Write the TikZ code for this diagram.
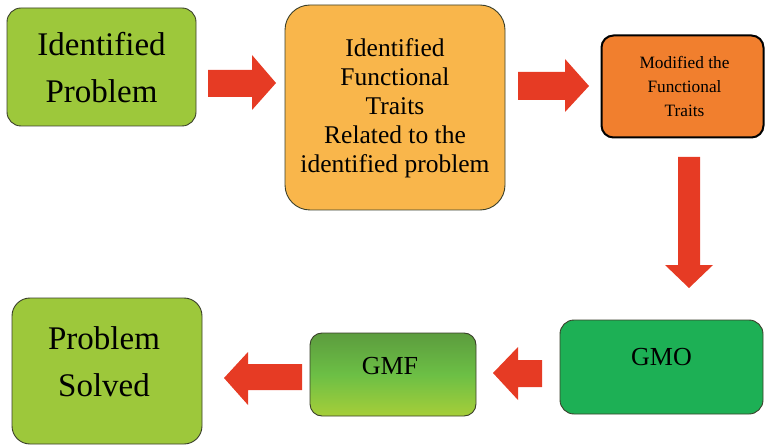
\documentclass[tikz,border=0pt]{standalone}
\usepackage{fontspec}
\setmainfont{Liberation Serif}
\definecolor{leafgreen}{HTML}{9DC83B}
\definecolor{ambfill}{HTML}{F9B64B}
\definecolor{orfill}{HTML}{F17F2E}
\definecolor{gmogreen}{HTML}{1DB055}
\definecolor{gmftop}{HTML}{5C9C3E}
\definecolor{gmfmid}{HTML}{6CBF45}
\definecolor{gmfbot}{HTML}{A6CE39}
\definecolor{arrowred}{HTML}{E63B24}
\definecolor{edgegray}{HTML}{3A3F2A}
\tikzset{
  stagebox/.style={draw=edgegray, line width=0.9pt, inner sep=0pt, outer sep=0pt},
  blockarrow/.style={fill=arrowred, draw=none},
  bigtext/.style={align=center, font=\fontsize{33}{47}\selectfont},
}
\begin{document}
\begin{tikzpicture}[x=1pt,y=-1pt]
\useasboundingbox (0,0) rectangle (765,446);
% process boxes
\node[stagebox, fill=leafgreen, rounded corners=14pt, minimum width=189pt, minimum height=118pt] (b1) at (101.5,67) {};
\node[stagebox, fill=ambfill, rounded corners=25pt, minimum width=220pt, minimum height=205pt] (b2) at (395,107.5) {};
\node[stagebox, draw=black, line width=2pt, fill=orfill, rounded corners=12pt, minimum width=162pt, minimum height=102pt] (b3) at (682.5,86.5) {};
\node[stagebox, fill=gmogreen, rounded corners=14pt, minimum width=203pt, minimum height=94pt] (gmo) at (661.5,367) {};
\node[stagebox, top color=gmftop, bottom color=gmfbot, middle color=gmfmid, rounded corners=12pt, minimum width=166pt, minimum height=83pt] (gmf) at (393,374.5) {};
\node[stagebox, fill=leafgreen, rounded corners=18pt, minimum width=190pt, minimum height=146pt] (b6) at (107,371) {};
% labels
\node[bigtext] at ([yshift=-1pt]b1.center) {Identified\\Problem};
\node[align=center, font=\fontsize{25.5}{29}\selectfont] at ([yshift=-1pt]b2.center) {Identified\\Functional\\Traits\\Related to the\\identified problem};
\node[align=center, font=\fontsize{17.3}{24}\selectfont] at ([xshift=2pt]b3.center) {Modified the\\Functional\\Traits};
\node[font=\fontsize{26}{30}\selectfont] at ([yshift=10pt]gmo.center) {GMO};
\node[font=\fontsize{26}{30}\selectfont] at ([yshift=8pt,xshift=-3pt]gmf.center) {GMF};
\node[bigtext] at ([yshift=9pt,xshift=-3pt]b6.center) {Problem\\Solved};
% flow arrows
\fill[blockarrow] (208,70) -- (252,70) -- (252,55) -- (276,83) -- (252,110) -- (252,97) -- (208,97) -- cycle;
\fill[blockarrow] (518,72) -- (565,72) -- (565,59) -- (589,86) -- (565,112) -- (565,100) -- (518,100) -- cycle;
\fill[blockarrow] (678,157) -- (700,157) -- (700,265) -- (713,265) -- (689,288) -- (665,265) -- (678,265) -- cycle;
\fill[blockarrow] (542,360) -- (518,360) -- (518,347) -- (493,373) -- (518,400) -- (518,387) -- (542,387) -- cycle;
\fill[blockarrow] (302,364) -- (248,364) -- (248,352) -- (224,378) -- (248,405) -- (248,390) -- (302,390) -- cycle;
\end{tikzpicture}
\end{document}
